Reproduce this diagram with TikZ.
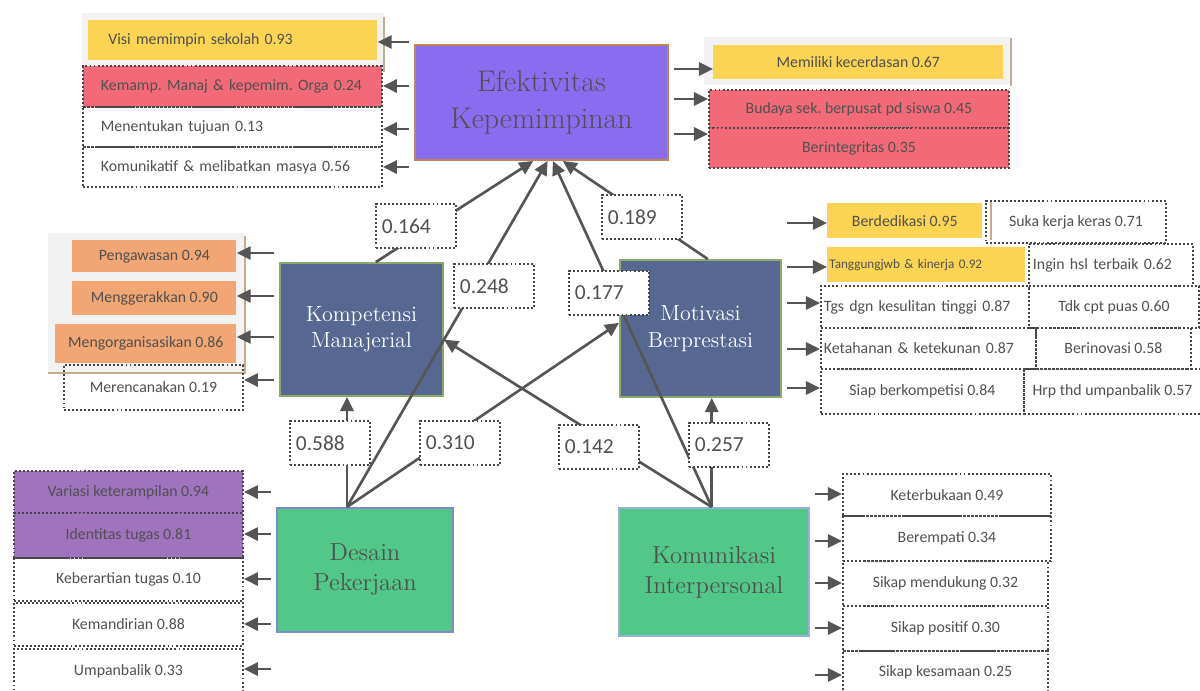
\documentclass[tikz,border=0pt]{standalone}
\usepackage{fontspec}
\newfontfamily\calibri{Carlito}
\usepackage{tikz}
\usetikzlibrary{arrows.meta,positioning,shapes.geometric}
\usepackage{xcolor}
\definecolor{txtgray}{RGB}{80,80,80}
\definecolor{arrgray}{RGB}{85,85,85}
\definecolor{dotgray}{RGB}{70,70,70}
\definecolor{kuning}{RGB}{250,212,82}
\definecolor{merah}{RGB}{242,106,120}
\definecolor{oranye}{RGB}{242,166,115}
\definecolor{ungu}{RGB}{160,115,190}
\definecolor{efekfill}{RGB}{138,108,240}
\definecolor{efekline}{RGB}{196,132,82}
\definecolor{slate}{RGB}{86,104,146}
\definecolor{slateline}{RGB}{140,170,110}
\definecolor{hijau}{RGB}{82,200,136}
\definecolor{desaline}{RGB}{125,140,200}
\definecolor{komuline}{RGB}{150,175,220}
\definecolor{coklat}{RGB}{200,170,140}
\frenchspacing

\begin{document}
\begin{tikzpicture}[x=0.02cm, y=-0.02cm]
\tikzstyle{konstruk} = [rectangle, line width=1.1pt, align=center, inner sep=2pt]
\tikzstyle{ungu_box} = [konstruk, fill=efekfill, draw=efekline, text=txtgray,
font=\fontsize{17}{21}\selectfont, minimum width=5.06cm, minimum height=2.3cm]
\tikzstyle{biru_box} = [konstruk, fill=slate, draw=slateline, text=white,
font=\fontsize{12.5}{15}\selectfont]
\tikzstyle{hijau_box} = [konstruk, fill=hijau, text=txtgray,
font=\fontsize{14}{17}\selectfont]
\tikzstyle{ind} = [rectangle, anchor=north west, inner sep=0pt, text=txtgray,
align=center, font=\calibri\fontsize{9}{11}\selectfont]
\tikzstyle{ind_left} = [ind, align=left, inner xsep=0.36cm, text width=5.26cm]
\tikzstyle{dots} = [draw=dotgray, line width=1.1pt, dash pattern=on 1.1pt off 1.2pt]
\tikzstyle{koef} = [rectangle, anchor=north west, fill=white, dots, inner xsep=0.12cm,
inner ysep=0pt, text width=1.36cm, align=left, minimum height=0.88cm, text=txtgray,
font=\calibri\fontsize{12.2}{14}\selectfont]
\tikzstyle{bayang} = [fill=black!5]
\tikzstyle{tepi} = [draw=coklat, line width=1.2pt]
\tikzstyle{line} = [draw=arrgray, line width=1.5pt, -{Triangle[length=8pt,width=7.5pt]}]
\tikzstyle{ind_line} = [line, shorten <=3pt]

\useasboundingbox (0,0) rectangle (1200,690);

% shadows
\fill [bayang] (82,13) rectangle (384,66);
\draw [tepi] (384,17) -- (384,72);
\fill [bayang] (704,37) rectangle (1011,85);
\draw [tepi] (1011,38) -- (1011,86);
\fill [bayang] (48,233) rectangle (245,372);
\draw [tepi] (245,236) -- (245,373) -- (48,373);
\draw [tepi] (991,201) -- (991,240);

% Efektivitas indicators
\node [ind_left, fill=kuning, inner xsep=0.4cm, text width=4.98cm, minimum height=0.8cm] (visi) at (88,20) {Visi memimpin sekolah 0.93};
\node [ind_left, fill=merah, dots, minimum height=0.82cm] (kemamp) at (82,65) {Kemamp. Manaj \& kepemim. Orga 0.24};
\node [ind_left, dots, minimum height=0.8cm] (tujuan) at (82,106) {Menentukan tujuan 0.13};
\node [ind_left, dots, minimum height=0.8cm] (komunikatif) at (82,146) {Komunikatif \& melibatkan masya 0.56};
\node [ind, fill=kuning, minimum width=5.8cm, minimum height=0.68cm] (cerdas) at (713,45) {Memiliki kecerdasan 0.67};
\node [ind, fill=merah, dots, minimum width=6cm, minimum height=0.76cm] (budaya) at (708,89) {Budaya sek. berpusat pd siswa 0.45};
\node [ind, fill=merah, dots, minimum width=6cm, minimum height=0.8cm] (integritas) at (708,127) {Berintegritas 0.35};

% Kompetensi indicators
\node [ind, fill=oranye, minimum width=3.28cm, minimum height=0.64cm] (pengawasan) at (72,240) {Pengawasan 0.94};
\node [ind, fill=oranye, minimum width=3.28cm, minimum height=0.68cm] (menggerakkan) at (72,281) {Menggerakkan 0.90};
\node [ind, fill=oranye, minimum width=3.62cm, minimum height=0.78cm] (mengorganisasikan) at (55,324) {Mengorganisasikan 0.86};
\node [ind, dots, minimum width=3.58cm, minimum height=0.9cm] (merencanakan) at (63,364) {Merencanakan 0.19};

% Motivasi indicators
\node [ind, fill=kuning, minimum width=3.1cm, minimum height=0.7cm] (dedikasi) at (827,203) {Berdedikasi 0.95};
\node [ind, dots, minimum width=3.6cm, minimum height=0.84cm] (kerjakeras) at (985,200) {Suka kerja keras 0.71};
\node [ind, fill=kuning, align=left, inner xsep=0.04cm, text width=3.88cm, minimum height=0.7cm,
font=\calibri\fontsize{7.5}{9}\selectfont] (tanggungjwb) at (827,247) {Tanggungjwb \& kinerja 0.92};
\node [ind, dots, align=left, inner xsep=0.08cm, text width=3.12cm, minimum height=0.84cm] (hasil) at (1028,243) {Ingin hsl terbaik 0.62};
\node [ind, dots, align=left, inner xsep=0.06cm, text width=4.04cm, minimum height=0.84cm] (kesulitan) at (820,285) {Tgs dgn kesulitan tinggi 0.87};
\node [ind, dots, minimum width=3.4cm, minimum height=0.84cm] (puas) at (1028,285) {Tdk cpt puas 0.60};
\node [ind, dots, align=left, inner xsep=0.06cm, text width=4.18cm, minimum height=0.82cm] (ketahanan) at (820,327) {Ketahanan \& ketekunan 0.87};
\node [ind, dots, minimum width=3.1cm, minimum height=0.82cm] (inovasi) at (1035,327) {Berinovasi 0.58};
\node [ind, dots, minimum width=4.06cm, minimum height=0.9cm] (kompetisi) at (820,368) {Siap berkompetisi 0.84};
\node [ind, dots, minimum width=3.54cm, minimum height=0.9cm] (harapan) at (1023,368) {Hrp thd umpanbalik 0.57};

% Desain indicators
\node [ind, fill=ungu, dots, minimum width=4.58cm, minimum height=0.84cm] (variasi) at (13,470) {Variasi keterampilan 0.94};
\node [ind, fill=ungu, dots, minimum width=4.58cm, minimum height=0.9cm] (identitas) at (13,512) {Identitas tugas 0.81};
\node [ind, dots, minimum width=4.58cm, minimum height=0.86cm] (keberartian) at (13,557) {Keberartian tugas 0.10};
\node [ind, dots, minimum width=4.58cm, minimum height=0.86cm] (kemandirian) at (13,602) {Kemandirian 0.88};
\node [ind, dots, minimum width=4.58cm, minimum height=0.88cm] (umpanbalik) at (13,648) {Umpanbalik 0.33};

% Komunikasi indicators
\node [ind, dots, minimum width=4.16cm, minimum height=0.84cm] (keterbukaan) at (842,473) {Keterbukaan 0.49};
\node [ind, dots, minimum width=4.16cm, minimum height=0.9cm] (berempati) at (842,515) {Berempati 0.34};
\node [ind, dots, minimum width=4.1cm, minimum height=0.9cm] (mendukung) at (842,560) {Sikap mendukung 0.32};
\node [ind, dots, minimum width=4.1cm, minimum height=0.9cm] (positif) at (842,605) {Sikap positif 0.30};
\node [ind, dots, minimum width=4.1cm, minimum height=0.84cm] (kesamaan) at (842,650) {Sikap kesamaan 0.25};

% constructs
\node [ungu_box] (efek) at (541.5,102.5) {Efektivitas\\Kepemimpinan};
\node [biru_box, minimum width=3.26cm, minimum height=2.66cm] (komp) at (361.5,329.5) {Kompetensi\\Manajerial};
\node [biru_box, minimum width=3.22cm, minimum height=2.74cm] (moti) at (700.5,328.5) {Motivasi\\Berprestasi};
\node [hijau_box, draw=desaline, minimum width=3.52cm, minimum height=2.48cm] (desa) at (365,570) {Desain\\Pekerjaan};
\node [hijau_box, draw=komuline, minimum width=3.8cm, minimum height=2.56cm] (komu) at (714,572) {Komunikasi\\Interpersonal};

% indicator arrows
\path [ind_line] (efek.west |- 0,42) -- (visi.east |- 0,42);
\path [ind_line] (efek.west |- 0,86) -- (kemamp.east |- 0,86);
\path [ind_line] (efek.west |- 0,129) -- (tujuan.east |- 0,129);
\path [ind_line] (efek.west |- 0,167) -- (komunikatif.east |- 0,167);
\path [ind_line] (efek.east |- 0,69) -- (cerdas.west |- 0,69);
\path [ind_line] (efek.east |- 0,99) -- (budaya.west |- 0,99);
\path [ind_line] (efek.east |- 0,134) -- (integritas.west |- 0,134);
\path [ind_line] (komp.west |- 0,253) -- (pengawasan.east |- 0,253);
\path [ind_line] (komp.west |- 0,296) -- (menggerakkan.east |- 0,296);
\path [ind_line] (komp.west |- 0,337) -- (mengorganisasikan.east |- 0,337);
\path [ind_line] (komp.west |- 0,380) -- (merencanakan.east |- 0,380);
\path [ind_line] (moti.east |- 0,223) -- (dedikasi.west |- 0,223);
\path [ind_line] (moti.east |- 0,267) -- (tanggungjwb.west |- 0,267);
\path [ind_line] (moti.east |- 0,303) -- (kesulitan.west |- 0,303);
\path [ind_line] (moti.east |- 0,349) -- (ketahanan.west |- 0,349);
\path [ind_line] (moti.east |- 0,388) -- (kompetisi.west |- 0,388);
\path [ind_line] (desa.west |- 0,492) -- (variasi.east |- 0,492);
\path [ind_line] (desa.west |- 0,534) -- (identitas.east |- 0,534);
\path [ind_line] (desa.west |- 0,579) -- (keberartian.east |- 0,579);
\path [ind_line] (desa.west |- 0,624) -- (kemandirian.east |- 0,624);
\path [ind_line] (desa.west |- 0,669) -- (umpanbalik.east |- 0,669);
\path [ind_line] (komu.east |- 0,494) -- (keterbukaan.west |- 0,494);
\path [ind_line] (komu.east |- 0,541) -- (berempati.west |- 0,541);
\path [ind_line] (komu.east |- 0,583) -- (mendukung.west |- 0,583);
\path [ind_line] (komu.east |- 0,628) -- (positif.west |- 0,628);
\path [ind_line] (komu.east |- 0,675) -- (kesamaan.west |- 0,675);

% paths between constructs
\path [line] (komp.78) -- (efek.262);
\path [line] (desa.106) -- (efek.276);
\path [line] (komu.92) -- (efek.281);
\path [line] (moti.84) -- (efek.290);
\path [line] (desa.106) -- (desa.106 |- komp.south);
\path [line] (desa.106) -- (moti.176);
\path [line] (komu.92) -- (komp.353);
\path [line] (komu.92) -- (komu.92 |- moti.south);

% coefficients
\node [koef] (k164) at (375,203) {0.164};
\node [koef] (k248) at (453,263) {0.248};
\node [koef] (k189) at (601,194) {0.189};
\node [koef] (k177) at (568,270) {0.177};
\node [koef] (k588) at (289,420) {0.588};
\node [koef] (k310) at (419,420) {0.310};
\node [koef] (k142) at (558,424) {0.142};
\node [koef] (k257) at (688,422) {0.257};
\end{tikzpicture}
\end{document}
